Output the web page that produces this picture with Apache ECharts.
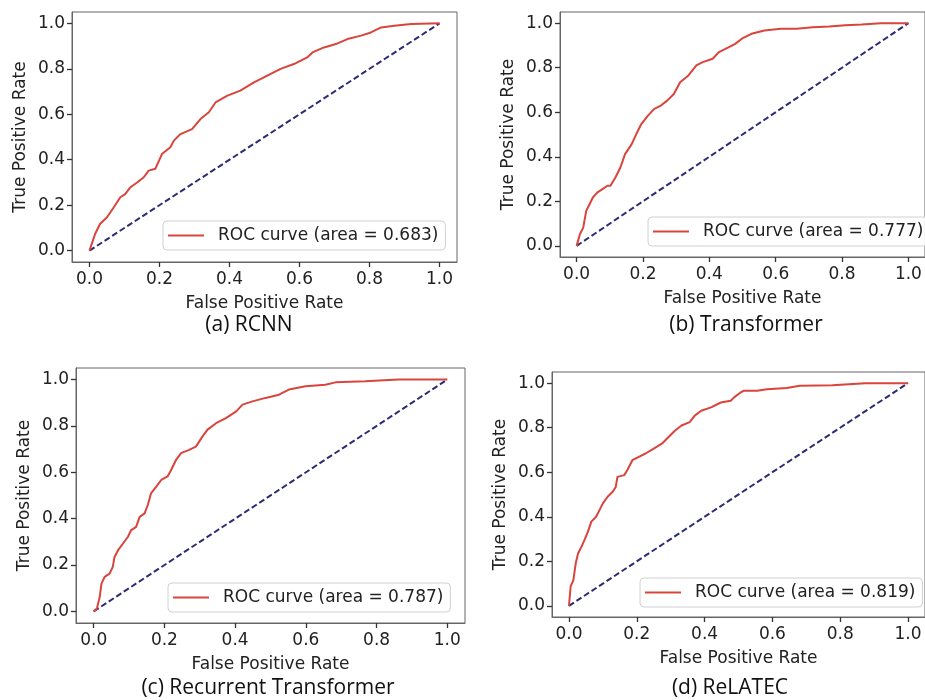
<!DOCTYPE html>
<html>
<head>
<meta charset="utf-8">
<script src="https://cdn.jsdelivr.net/npm/echarts@6/dist/echarts.min.js"></script>
<style>
  html, body { margin: 0; padding: 0; background: #fff; }
  #main { width: 925px; height: 700px; }
</style>
</head>
<body>
<div id="main"></div>
<script>
// ROC curves, [fpr, tpr]
var rcnnRoc = [[0,0],[0.016,0.073],[0.03,0.117],[0.05,0.147],[0.069,0.19],[0.088,0.235],[0.102,0.249],[0.117,0.279],
  [0.136,0.3],[0.155,0.323],[0.169,0.352],[0.188,0.36],[0.207,0.425],[0.231,0.455],[0.241,0.484],[0.26,0.513],
  [0.293,0.535],[0.317,0.579],[0.341,0.609],[0.36,0.652],[0.394,0.682],[0.431,0.704],[0.47,0.74],[0.508,0.77],
  [0.546,0.8],[0.584,0.821],[0.622,0.85],[0.637,0.872],[0.67,0.894],[0.704,0.909],[0.737,0.931],[0.776,0.946],
  [0.804,0.96],[0.833,0.982],[0.871,0.99],[0.919,0.997],[1,1]];
var transformerRoc = [[0,0],[0.01,0.052],[0.02,0.082],[0.029,0.157],[0.039,0.187],[0.049,0.217],[0.063,0.24],[0.078,0.255],
  [0.093,0.27],[0.102,0.27],[0.117,0.307],[0.132,0.352],[0.146,0.412],[0.166,0.457],[0.18,0.502],[0.195,0.547],
  [0.215,0.585],[0.234,0.615],[0.254,0.63],[0.273,0.652],[0.293,0.682],[0.312,0.735],[0.337,0.765],[0.361,0.81],
  [0.38,0.825],[0.41,0.84],[0.429,0.87],[0.459,0.892],[0.478,0.907],[0.498,0.93],[0.527,0.952],[0.566,0.967],
  [0.615,0.975],[0.663,0.975],[0.712,0.982],[0.761,0.985],[0.81,0.99],[0.859,0.994],[0.917,1],[1,1]];
var recurrentRoc = [[0,0],[0.009,0.012],[0.017,0.062],[0.022,0.12],[0.031,0.149],[0.045,0.163],[0.054,0.192],[0.059,0.235],
  [0.069,0.264],[0.083,0.293],[0.097,0.322],[0.106,0.351],[0.12,0.365],[0.13,0.408],[0.144,0.423],[0.153,0.459],
  [0.162,0.509],[0.177,0.538],[0.191,0.567],[0.209,0.582],[0.219,0.61],[0.233,0.654],[0.247,0.683],[0.27,0.697],
  [0.289,0.711],[0.308,0.755],[0.322,0.784],[0.346,0.812],[0.374,0.834],[0.403,0.863],[0.421,0.892],[0.449,0.906],
  [0.486,0.921],[0.524,0.935],[0.552,0.957],[0.599,0.971],[0.655,0.978],[0.684,0.988],[0.768,0.993],[0.862,1],[1,1]];
var relatecRoc = [[0,0],[0.005,0.087],[0.013,0.116],[0.02,0.191],[0.027,0.236],[0.037,0.266],[0.046,0.296],[0.056,0.333],
  [0.066,0.378],[0.08,0.4],[0.09,0.43],[0.1,0.46],[0.114,0.49],[0.129,0.512],[0.138,0.534],[0.143,0.579],
  [0.163,0.587],[0.172,0.609],[0.187,0.654],[0.206,0.669],[0.226,0.684],[0.25,0.706],[0.274,0.728],[0.293,0.757],
  [0.313,0.787],[0.332,0.81],[0.356,0.825],[0.371,0.854],[0.39,0.876],[0.419,0.891],[0.448,0.913],[0.477,0.921],
  [0.487,0.936],[0.506,0.958],[0.516,0.966],[0.555,0.966],[0.584,0.973],[0.642,0.978],[0.681,0.988],[0.777,0.991],
  [0.874,1],[1,1]];
var chanceLine = [[0,0],[1,1]];

var curves = [rcnnRoc, transformerRoc, recurrentRoc, relatecRoc];
var areas = ['0.683', '0.777', '0.787', '0.819'];
var captions = ['(a) RCNN', '(b) Transformer', '(c) Recurrent Transformer', '(d) ReLATEC'];
var tickValues = [0, 0.2, 0.4, 0.6, 0.8, 1.0];

// frame boxes of the 4 panels (px)
var boxes = [
  {left: 72, top: 12, width: 385, height: 250},
  {left: 560, top: 12, width: 374, height: 245},
  {left: 76, top: 368, width: 389, height: 255},
  {left: 552, top: 372, width: 378, height: 245}
];
var legendPos = [
  {left: 163, top: 221}, {left: 648, top: 217}, {left: 168, top: 583}, {left: 640, top: 578}
];
var captionPos = [[249, 325], [746, 325], [268, 688], [730, 688]];

var font = 'DejaVu Sans';
var txt = '#222';

function axisCommon(name, isY) {
  return {
    type: 'value',
    min: -0.05, max: 1.05,
    name: name,
    nameLocation: 'middle',
    nameGap: isY ? 43 : 33,
    nameTextStyle: {fontFamily: font, fontSize: 17, color: txt},
    axisLine: {show: true, onZero: false, lineStyle: {color: '#666', width: 1}},
    splitLine: {show: false},
    axisTick: {show: true, inside: false, length: 5, customValues: tickValues, lineStyle: {color: '#333', width: 1.3}},
    axisLabel: {
      customValues: tickValues, margin: isY ? 7 : 9,
      fontFamily: font, fontSize: 17, color: txt,
      formatter: function (v) { return v.toFixed(1); }
    }
  };
}

var grids = [], xAxes = [], yAxes = [], series = [], legends = [], graphics = [];
for (var i = 0; i < 4; i++) {
  var b = boxes[i];
  grids.push({left: b.left, top: b.top, width: b.width, height: b.height,
    show: true, borderColor: '#666', borderWidth: 1, backgroundColor: 'transparent'});
  var xa = axisCommon('False Positive Rate', false); xa.gridIndex = i;
  var ya = axisCommon('True Positive Rate', true); ya.gridIndex = i;
  xAxes.push(xa); yAxes.push(ya);
  var nm = 'ROC curve (area = ' + areas[i] + ')';
  series.push({
    name: nm, type: 'line', xAxisIndex: i, yAxisIndex: i,
    data: curves[i], symbol: 'none', z: 3,
    lineStyle: {color: '#d9443c', width: 2}, itemStyle: {color: '#d9443c'}
  });
  series.push({
    type: 'line', xAxisIndex: i, yAxisIndex: i,
    data: chanceLine, symbol: 'none', z: 2,
    lineStyle: {color: '#2c2c74', width: 2, type: [6, 3]}
  });
  legends.push({
    data: [nm], left: legendPos[i].left, top: legendPos[i].top,
    orient: 'vertical', icon: 'rect', itemWidth: 36, itemHeight: 2,
    padding: [6, 7, 6, 5],
    backgroundColor: 'rgba(255,255,255,0.85)', borderColor: '#d0d0d0', borderWidth: 1, borderRadius: 4,
    textStyle: {fontFamily: font, fontSize: 17, color: txt, padding: [0, 0, 0, 9]}
  });
  graphics.push({
    type: 'text', x: captionPos[i][0], y: captionPos[i][1],
    style: {text: captions[i], font: '21px "Open Sans"', fill: '#111', textAlign: 'center', textVerticalAlign: 'middle'}
  });
}

var myChart = echarts.init(document.getElementById('main'));
myChart.setOption({
  animation: false,
  backgroundColor: '#fff',
  grid: grids,
  xAxis: xAxes,
  yAxis: yAxes,
  legend: legends,
  series: series,
  graphic: graphics
});
</script>
</body>
</html>
